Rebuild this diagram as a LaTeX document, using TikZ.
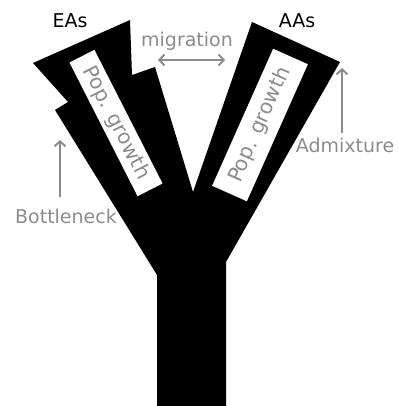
\documentclass[tikz,border=0pt]{standalone}
\usepackage{fontspec}
\setmainfont{DejaVu Sans}
\usepackage{xcolor}
\usepackage{tikz}
\usetikzlibrary{arrows.meta}
\definecolor{labelgray}{gray}{0.55}

\begin{document}
\begin{tikzpicture}[x=1pt, y=-1pt,
        font=\fontsize{19}{21}\selectfont,
        >={Straight Barb[length=5pt, width=11pt]},
        graylabel/.style={text=labelgray},
        popbox/.style={fill=white, minimum width=150pt, inner sep=0pt, text=labelgray,
            font=\fontsize{20.5}{22}\selectfont},
        grayarrow/.style={labelgray, line width=2pt}]
        \useasboundingbox (0,0) rectangle (397,406);

        % Trunk and the two branches
        \fill[black] (157,406) -- (157,275) -- (55,110) -- (68,102) -- (33,63)
            -- (130,20) -- (132,75) -- (155,67) -- (193,192) -- (252,22)
            -- (340,62) -- (226,262) -- (226,406) -- cycle;

        % Growth boxes
        \node[popbox, minimum height=28pt, rotate=-63] (growthEA) at (116,123) {Pop. growth};
        \node[popbox, minimum height=38pt, rotate=66] (growthAA) at (260,125) {Pop. growth};

        % Population names
        \node[anchor=base] (EA) at (70,28) {EAs};
        \node[anchor=base] (AA) at (297,28) {AAs};

        % Migration
        \node[graylabel, anchor=base] (migration) at (187,47) {migration};
        \coordinate (migEA) at (158,60);
        \coordinate (migAA) at (225,60);
        \draw[grayarrow, <->] (migEA) -- (migAA);

        % Bottleneck
        \node[graylabel, anchor=base] (bottleneck) at (66,223) {Bottleneck};
        \coordinate (bottleneckTip) at (60,140);
        \draw[grayarrow, ->, shorten <=8pt] (bottleneck.north -| bottleneckTip) -- (bottleneckTip);

        % Admixture
        \node[graylabel, anchor=base] (admixture) at (345,153) {Admixture};
        \coordinate (admixtureTip) at (342,68);
        \draw[grayarrow, ->, shorten <=2pt] (admixture.north -| admixtureTip) -- (admixtureTip);
    \end{tikzpicture}
\end{document}
